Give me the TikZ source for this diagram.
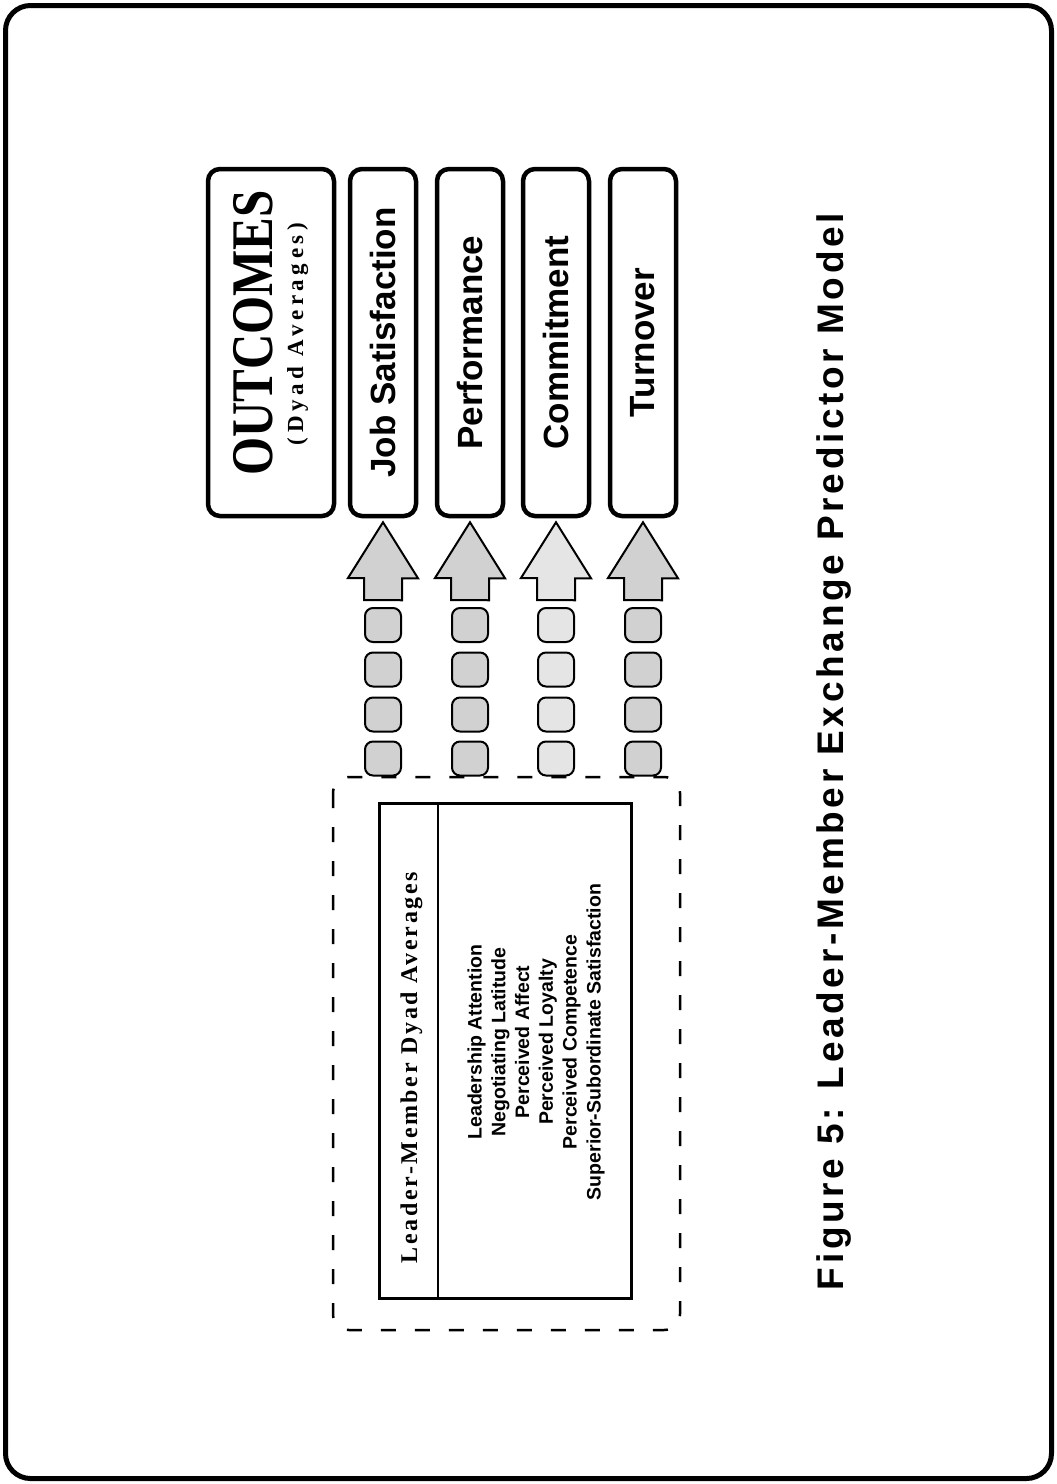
\documentclass[tikz,border=0pt]{standalone}
\usepackage{fontspec}
\usepackage{graphicx}
\setmainfont{Liberation Serif}
\newfontfamily\sansbold{Liberation Sans}
\newfontfamily\titlesans[LetterSpace=10]{Liberation Sans}
\newfontfamily\headserif[LetterSpace=11]{Liberation Serif}
\newfontfamily\subserif[LetterSpace=20]{Liberation Serif}
\usetikzlibrary{calc}

\begin{document}
\begin{tikzpicture}[x=1pt, y=-1pt,
    outbox/.style={draw, line width=4.5pt, rounded corners=12pt, rotate=90,
        minimum width=347pt, minimum height=66pt, inner sep=0pt,
        font=\sansbold\bfseries\fontsize{35}{40}\selectfont},
    link/.style={draw, line width=2pt, rounded corners=8pt,
        minimum width=36pt, minimum height=34pt, inner sep=0pt},
    bigarrow/.style={draw, line width=2pt, line join=miter}]
        \useasboundingbox (0,0) rectangle (1057,1484);

        %%frame
        \draw[line width=5pt, rounded corners=25pt] (5.5,5.5) rectangle (1051.5,1478.5);

        %%dyad averages block
        \draw[line width=2.5pt, dash pattern=on 15pt off 19pt, rounded corners=16pt] (333,777) rectangle (680,1330);
        \draw[line width=3pt] (379,803) rectangle (631,1298);
            \draw[line width=2pt] (438,803) to (438,1298);
        \node[rotate=90, anchor=base, font=\headserif\bfseries\fontsize{24}{26}\selectfont] (lmhead) at (417,1067.5) {Leader-Member Dyad Averages};
        \node[rotate=90, align=center, font=\sansbold\bfseries\fontsize{19.5}{23.8}\selectfont] (lmlist) at (536,1042)
            {Leadership Attention\\Negotiating Latitude\\Perceived Affect\\Perceived Loyalty\\Perceived Competence\\Superior-Subordinate Satisfaction};

        %%outcomes
        \node[outbox, minimum height=126pt] (oc) at (271,342.5) {};
        \node[rotate=90, anchor=base, font=\bfseries\fontsize{59}{60}\selectfont] (octitle) at (272,333) {\scalebox{0.83}[1]{OUTCOMES}};
        \node[rotate=90, anchor=base, font=\subserif\bfseries\fontsize{23}{24}\selectfont] (ocsub) at (303,334) {(Dyad Averages)};

        %%outcome boxes, links and arrows
        \foreach \nm/\cx/\txt/\shade in {js/383/Job Satisfaction/18, pf/470/Performance/18, cm/556/Commitment/10, tn/643/Turnover/18} {
            \node[outbox] (\nm) at (\cx,342.5) {\txt};
            \foreach \k/\cy in {1/625, 2/669.5, 3/714.5, 4/758.5}
                \node[link, fill=black!\shade] (\nm\k) at (\cx,\cy) {};
            \draw[bigarrow, fill=black!\shade] ($(\nm1.north)+(-19,-7)$) -- ++(0,-22) -- ++(-16,0)
                -- ($(\nm.west)+(0,4)$) -- ++(35,56) -- ++(-16,0) -- ++(0,22) -- cycle;
        }

        %%caption
        \node[rotate=90, anchor=base, font=\titlesans\bfseries\fontsize{37}{42}\selectfont] (fig) at (843,751.5) {Figure 5: Leader-Member Exchange Predictor Model};

    \end{tikzpicture}
\end{document}
